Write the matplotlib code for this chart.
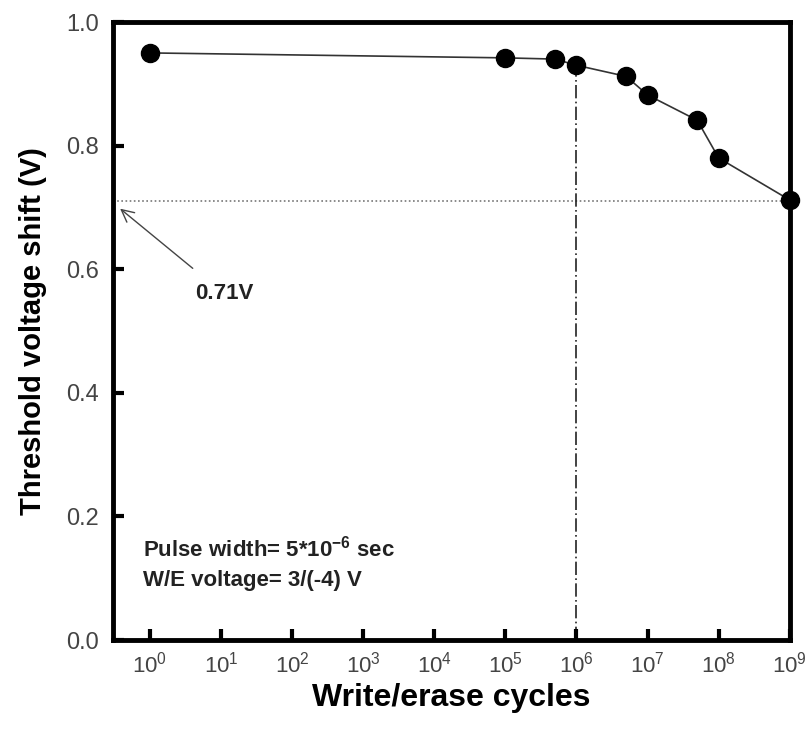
import numpy as np
import matplotlib.pyplot as plt

plt.rcParams['font.family'] = ['Liberation Sans', 'DejaVu Sans']
plt.rcParams['mathtext.fontset'] = 'custom'
plt.rcParams['mathtext.rm'] = 'Liberation Sans'
plt.rcParams['mathtext.bf'] = 'Liberation Sans:bold'

cycles = [1e0, 1e5, 5e5, 1e6, 5e6, 1e7, 5e7, 1e8, 1e9]
vth_shift = [0.95, 0.942, 0.94, 0.93, 0.912, 0.882, 0.841, 0.78, 0.712]
ref_level = 0.71
ref_cycle = 1e6
yticks = [0.0, 0.2, 0.4, 0.6, 0.8, 1.0]
xticks = [10.0**k for k in range(10)]

fig = plt.figure(figsize=(8.1, 7.34), dpi=100)
ax = fig.add_axes([0.1395, 0.128, 0.8355, 0.842])

ax.plot(cycles, vth_shift, color='#333333', lw=1.2, marker='o', ms=13,
        mfc='black', mec='black', clip_on=False, zorder=3)

# reference lines
ax.axhline(ref_level, color='#777777', lw=1.2, ls=(0, (1, 1.5)), zorder=1)
ax.plot([ref_cycle, ref_cycle], [0, vth_shift[3]], color='#222222', lw=1.2,
        ls=(0, (8, 2, 1, 2)), zorder=1)

ax.set_xscale('log')
ax.set_xlim(10**-0.52, 1e9)
ax.set_ylim(0, 1.0)
ax.set_xticks(xticks)
ax.set_xticklabels([r'$\mathregular{10^{%d}}$' % k for k in range(10)])
ax.minorticks_off()
ax.set_yticks(yticks)
ax.set_yticklabels(['%.1f' % v for v in yticks])

ax.tick_params(direction='in', length=8, width=3, labelsize=16,
               labelcolor='#444444')
ax.tick_params(axis='x', pad=8)
ax.tick_params(axis='y', pad=10, labelsize=17)
for s in ax.spines.values():
    s.set_linewidth(3.5)

ax.set_xlabel('Write/erase cycles', fontsize=23, fontweight='bold', labelpad=4)
ax.set_ylabel('Threshold voltage shift (V)', fontsize=21, fontweight='bold',
              labelpad=14)

ax.annotate('0.71V', xy=(10**-0.42, 0.698), xytext=(10**0.63, 0.56),
            fontsize=16, fontweight='bold', color='#222222',
            va='center', ha='left',
            arrowprops=dict(arrowstyle='->', color='#444444', lw=1,
                            shrinkA=14, shrinkB=0, mutation_scale=22))

ax.text(0.044, 0.135, r'Pulse width= 5*10$\mathbf{^{-6}}$ sec',
        transform=ax.transAxes, fontsize=16, fontweight='bold', color='#222222')
ax.text(0.044, 0.088, 'W/E voltage= 3/(-4) V',
        transform=ax.transAxes, fontsize=16, fontweight='bold', color='#222222')

fig.savefig('out.png', dpi=100)
